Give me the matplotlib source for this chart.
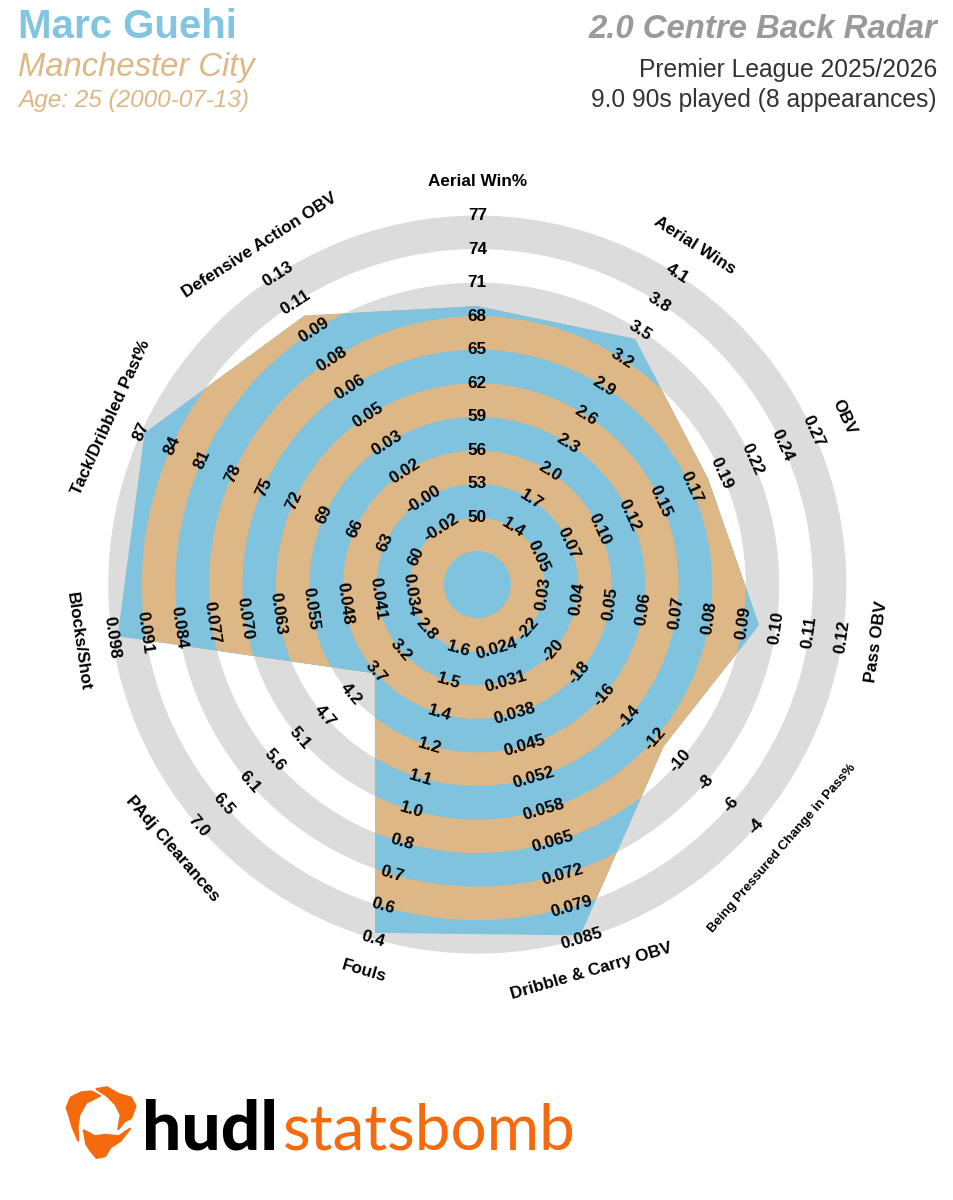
import numpy as np
import matplotlib
matplotlib.use("Agg")
import matplotlib.pyplot as plt
from matplotlib.patches import Polygon

W, H = 954, 1200
BLUE, TAN, GREY = "#7FC3DE", "#DDB786", "#DCDCDC"

metrics = ["Aerial Win%", "Aerial Wins", "OBV", "Pass OBV", "Being Pressured Change in Pass%",
           "Dribble & Carry OBV", "Fouls", "PAdj Clearances", "Blocks/Shot",
           "Tack/Dribbled Past%", "Defensive Action OBV"]
values = [68.9, 3.41, 0.186, 0.0948, -11.3, 0.0843, 0.424, 3.75, 0.0968, 86.7, 0.1055]
ticks = [
    ["50", "53", "56", "59", "62", "65", "68", "71", "74", "77"],
    ["1.4", "1.7", "2.0", "2.3", "2.6", "2.9", "3.2", "3.5", "3.8", "4.1"],
    ["0.05", "0.07", "0.10", "0.12", "0.15", "0.17", "0.19", "0.22", "0.24", "0.27"],
    ["0.03", "0.04", "0.05", "0.06", "0.07", "0.08", "0.09", "0.10", "0.11", "0.12"],
    ["-22", "-20", "-18", "-16", "-14", "-12", "-10", "-8", "-6", "-4"],
    ["0.024", "0.031", "0.038", "0.045", "0.052", "0.058", "0.065", "0.072", "0.079", "0.085"],
    ["1.6", "1.5", "1.4", "1.2", "1.1", "1.0", "0.8", "0.7", "0.6", "0.4"],
    ["2.8", "3.2", "3.7", "4.2", "4.7", "5.1", "5.6", "6.1", "6.5", "7.0"],
    ["0.034", "0.041", "0.048", "0.055", "0.063", "0.070", "0.077", "0.084", "0.091", "0.098"],
    ["60", "63", "66", "69", "72", "75", "78", "81", "84", "87"],
    ["-0.02", "-0.00", "0.02", "0.03", "0.05", "0.06", "0.08", "0.09", "0.11", "0.13"],
]

plt.rcParams["font.family"] = ["Liberation Sans", "DejaVu Sans"]

fig = plt.figure(figsize=(W / 100, H / 100), dpi=100, facecolor="white")

# polar axes; one radial unit = one ring
CX, CY, UNIT = 477.3, 584.6, 33.55
RMAX = 12.4
R = RMAX * UNIT
ax = fig.add_axes([(CX - R) / W, 1 - (CY + R) / H, 2 * R / W, 2 * R / H], projection="polar")
ax.set_theta_offset(np.pi / 2)
ax.set_theta_direction(-1)
ax.set_ylim(0, RMAX)
ax.axis("off")

n = len(metrics)
angles = np.arange(n) * 2 * np.pi / n


def to_radius(v, tk):
    lo, hi = float(tk[0]), float(tk[-1])
    return 2 + 9 * (v - lo) / (hi - lo)


radii = [to_radius(v, t) for v, t in zip(values, ticks)]
shape = Polygon(np.column_stack([angles, radii]), closed=True, facecolor="none", edgecolor="none",
                transform=ax.transData)
ax.add_patch(shape)

# discs from the outside in: odd outer index = grey/blue, even = white/tan
for k in range(11, 0, -1):
    inner_band = (k % 2 == 1)
    ax.bar(0, k, width=2 * np.pi, bottom=0, color=GREY if inner_band else "white", linewidth=0, zorder=1 + (11 - k) * 0.01)
for k in range(11, 0, -1):
    inner_band = (k % 2 == 1)
    bars = ax.bar(0, k, width=2 * np.pi, bottom=0, color=BLUE if inner_band else TAN, linewidth=0,
                  zorder=2 + (11 - k) * 0.01)
    bars[0].set_clip_path(shape)

for th, name, tk in zip(angles, metrics, ticks):
    deg = np.degrees(th)
    rot = -deg
    if 90 < deg < 270:
        rot += 180
    for j, s in enumerate(tk):
        ax.text(th, j + 2, s, rotation=rot, rotation_mode="anchor", ha="center", va="center",
                fontsize=12.3, fontweight="bold", color="black", zorder=5, clip_on=False)
    size = 9.5 if name.startswith("Being") else 12.3
    ax.text(th, 403 / UNIT, name, rotation=rot, rotation_mode="anchor", ha="center", va="center",
            color="black", zorder=5, clip_on=False, fontsize=size, fontweight="bold")


def label(x, y, s, **kw):
    fig.text(x / W, 1 - y / H, s, va="baseline", **kw)


label(18, 38, "Marc Guehi", color="#82C5E0", fontsize=29, fontweight="bold")
label(18, 76, "Manchester City", color=TAN, fontsize=23.6, style="italic")
label(18, 107, "Age: 25 (2000-07-13)", color=TAN, fontsize=17.6, style="italic")
label(937, 38, "2.0 Centre Back Radar", color="#9A9A9A", fontsize=23.7, fontweight="bold", style="italic", ha="right")
label(937, 77, "Premier League 2025/2026", color="#333333", fontsize=17.7, ha="right")
label(937, 107, "9.0 90s played (8 appearances)", color="#333333", fontsize=17.7, ha="right")

# logo
overlay = fig.add_axes([0, 0, 1, 1], facecolor="none")
overlay.set_xlim(0, W)
overlay.set_ylim(H, 0)
overlay.axis("off")
ORANGE = "#F56A0C"
logo_a = [(120, 62), (145, 75), (105, 95), (85, 130), (80, 165), (82, 205), (65, 165), (55, 130), (48, 110), (60, 80), (90, 65)]
logo_b = [(135, 55), (165, 50), (200, 70), (235, 80), (248, 105), (235, 140), (215, 150), (198, 172), (205, 130), (190, 100), (165, 75)]
logo_c = [(98, 175), (130, 192), (160, 188), (200, 192), (232, 170), (205, 205), (175, 225), (160, 250), (135, 255), (118, 235), (105, 215)]
for pts in (logo_a, logo_b, logo_c):
    xy = np.array(pts) / 2.9 + np.array([50, 1070])
    overlay.add_patch(Polygon(xy, closed=True, facecolor=ORANGE, edgecolor=ORANGE, linewidth=1.5, joinstyle="round"))
label(142, 1149, "hudl", color="black", fontsize=50, family="Lato", fontweight="black")
label(283, 1149, "statsbomb", color=ORANGE, fontsize=46, family="Lato", fontweight="normal")

fig.savefig("out.png", dpi=100, facecolor="white")
